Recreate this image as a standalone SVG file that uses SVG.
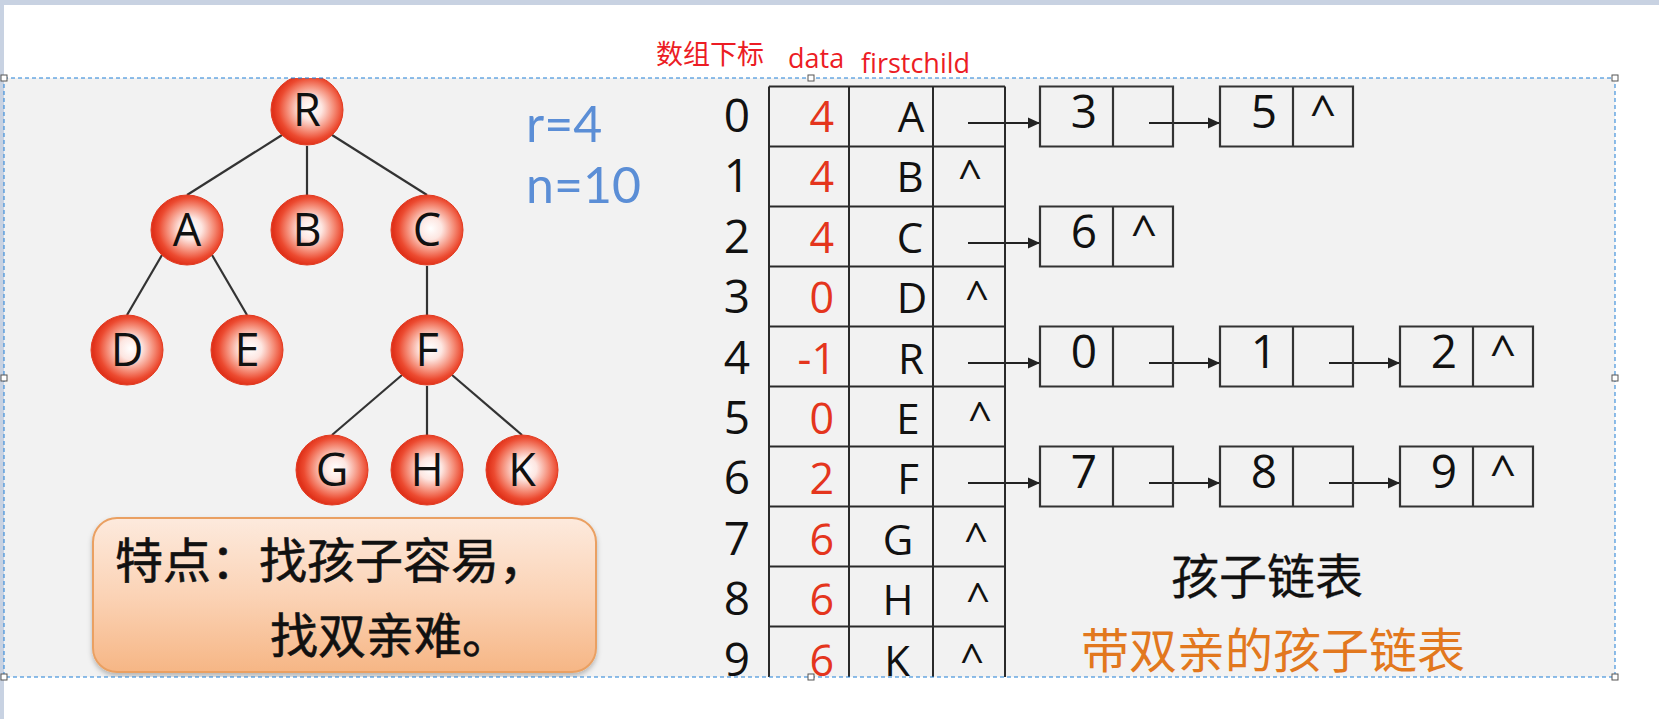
<svg xmlns="http://www.w3.org/2000/svg" width="1659" height="719" viewBox="0 0 1659 719">
<defs>
<radialGradient id="ball" cx="55%" cy="48%" r="52%">
<stop offset="0" stop-color="#ffffff"/>
<stop offset="0.3" stop-color="#fde6e1"/>
<stop offset="0.62" stop-color="#f58d78"/>
<stop offset="0.85" stop-color="#ec4a30"/>
<stop offset="1" stop-color="#e0321a"/>
</radialGradient>
<linearGradient id="note" x1="0" y1="0" x2="0" y2="1">
<stop offset="0" stop-color="#fdeadd"/>
<stop offset="0.5" stop-color="#fbd3b6"/>
<stop offset="1" stop-color="#f6b685"/>
</linearGradient>
<filter id="sh" x="-5%" y="-10%" width="110%" height="125%">
<feDropShadow dx="0" dy="3" stdDeviation="2.5" flood-color="#000" flood-opacity="0.25"/>
</filter>
<marker id="arr" markerUnits="userSpaceOnUse" markerWidth="13" markerHeight="12" refX="12" refY="6" orient="auto">
<path d="M0,0.5 L12,6 L0,11.5 z" fill="#222"/>
</marker>
<clipPath id="slide"><rect x="4" y="78" width="1611" height="599"/></clipPath>
<style>
.lat{font-family:"Open Sans","Noto Sans","Liberation Sans",sans-serif}
.cjk{font-family:"Noto Sans CJK SC","Noto Sans",sans-serif}
.nl{font-size:45px;fill:#111;text-anchor:middle}
.idx{font-size:46px;fill:#111;text-anchor:middle}
.val{font-size:43px;fill:#e4351d;text-anchor:end}
.let{font-size:42px;fill:#111;text-anchor:middle}
.car{font-size:42px;fill:#111;text-anchor:middle}
.bn{font-size:46px;fill:#111;text-anchor:middle}
.hd{font-size:27px;fill:#ec1c24}
.par{font-family:Lato,"Open Sans",sans-serif;font-size:50px;fill:#5b8ed6}
.grid{stroke:#2a2a2a;stroke-width:2;fill:none}
.edge{stroke:#333;stroke-width:2.2;fill:none}
.arrow{stroke:#222;stroke-width:2;fill:none;marker-end:url(#arr)}
.box{stroke:#333;stroke-width:2.2;fill:none}
.ball{fill:url(#ball);stroke:#e2391f;stroke-width:1}
.hdl{fill:#fff;stroke:#555;stroke-width:1}
.bold{stroke:#111;stroke-width:0.6}
</style>
</defs>

<rect x="0" y="0" width="1659" height="719" fill="#ffffff"/>
<rect x="0" y="0" width="1659" height="5" fill="#c8d2e2"/>
<rect x="0" y="0" width="4" height="719" fill="#c8d2e2"/>
<rect x="4" y="78" width="1611" height="599" fill="#f2f2f2"/>

<g id="headers">
<text class="cjk hd" x="656" y="64">数组下标</text>
<text class="lat hd" x="788" y="68">data</text>
<text class="lat hd" x="861" y="73">firstchild</text>
</g>

<g clip-path="url(#slide)">
<g id="connectors">
<line class="edge" x1="282" y1="135" x2="187" y2="195"/>
<line class="edge" x1="307" y1="146" x2="307" y2="195"/>
<line class="edge" x1="332" y1="135" x2="427" y2="195"/>
<line class="edge" x1="162" y1="255" x2="127" y2="315"/>
<line class="edge" x1="212" y1="255" x2="247" y2="315"/>
<line class="edge" x1="427" y1="266" x2="427" y2="315"/>
<line class="edge" x1="402" y1="375" x2="332" y2="435"/>
<line class="edge" x1="427" y1="386" x2="427" y2="435"/>
<line class="edge" x1="452" y1="375" x2="522" y2="435"/>
<line class="arrow" x1="968" y1="123" x2="1040" y2="123"/>
<line class="arrow" x1="1149" y1="123" x2="1220" y2="123"/>
<line class="arrow" x1="968" y1="243" x2="1040" y2="243"/>
<line class="arrow" x1="968" y1="363" x2="1040" y2="363"/>
<line class="arrow" x1="1149" y1="363" x2="1220" y2="363"/>
<line class="arrow" x1="1329" y1="363" x2="1400" y2="363"/>
<line class="arrow" x1="968" y1="483" x2="1040" y2="483"/>
<line class="arrow" x1="1149" y1="483" x2="1220" y2="483"/>
<line class="arrow" x1="1329" y1="483" x2="1400" y2="483"/>
</g>

<g id="node-R"><ellipse class="ball" cx="307" cy="110" rx="36" ry="35"/><text class="lat nl" x="307" y="126">R</text></g>
<g id="node-A"><ellipse class="ball" cx="187" cy="230" rx="36" ry="35"/><text class="lat nl" x="187" y="246">A</text></g>
<g id="node-B"><ellipse class="ball" cx="307" cy="230" rx="36" ry="35"/><text class="lat nl" x="307" y="246">B</text></g>
<g id="node-C"><ellipse class="ball" cx="427" cy="230" rx="36" ry="35"/><text class="lat nl" x="427" y="246">C</text></g>
<g id="node-D"><ellipse class="ball" cx="127" cy="350" rx="36" ry="35"/><text class="lat nl" x="127" y="366">D</text></g>
<g id="node-E"><ellipse class="ball" cx="247" cy="350" rx="36" ry="35"/><text class="lat nl" x="247" y="366">E</text></g>
<g id="node-F"><ellipse class="ball" cx="427" cy="350" rx="36" ry="35"/><text class="lat nl" x="427" y="366">F</text></g>
<g id="node-G"><ellipse class="ball" cx="332" cy="470" rx="36" ry="35"/><text class="lat nl" x="332" y="486">G</text></g>
<g id="node-H"><ellipse class="ball" cx="427" cy="470" rx="36" ry="35"/><text class="lat nl" x="427" y="486">H</text></g>
<g id="node-K"><ellipse class="ball" cx="522" cy="470" rx="36" ry="35"/><text class="lat nl" x="522" y="486">K</text></g>

<g id="params">
<text class="par" x="526" y="142">r=4</text>
<text class="par" x="526" y="203">n=10</text>
</g>

<g id="note-box">
<rect x="93" y="518" width="503" height="154" rx="24" fill="url(#note)" stroke="#eaa062" stroke-width="2" filter="url(#sh)"/>
<text class="cjk bold" x="115" y="578" font-size="48" fill="#111">特点：找孩子容易，</text>
<text class="cjk bold" x="270" y="653" font-size="48" fill="#111">找双亲难。</text>
</g>

<g id="table">
<path class="grid" d="M769,86.5 V678 M849,86.5 V678 M933,86.5 V678 M1005,86.5 V678 M769,86.5 H1005 M769,146.5 H1005 M769,206.5 H1005 M769,266.5 H1005 M769,326.5 H1005 M769,386.5 H1005 M769,446.5 H1005 M769,506.5 H1005 M769,566.5 H1005 M769,626.5 H1005"/>
<g class="lat">
<text class="idx" x="737" y="132">0</text><text class="val" x="834" y="132">4</text><text class="let" x="911" y="132">A</text>
<text class="idx" x="737" y="192">1</text><text class="val" x="834" y="192">4</text><text class="let" x="910" y="192">B</text><text class="car" x="970" y="190">^</text>
<text class="idx" x="737" y="253">2</text><text class="val" x="834" y="253">4</text><text class="let" x="910" y="253">C</text>
<text class="idx" x="737" y="313">3</text><text class="val" x="834" y="313">0</text><text class="let" x="912" y="313">D</text><text class="car" x="977" y="311">^</text>
<text class="idx" x="737" y="374">4</text><text class="val" x="836" y="374">-1</text><text class="let" x="911" y="374">R</text>
<text class="idx" x="737" y="434">5</text><text class="val" x="834" y="434">0</text><text class="let" x="908" y="434">E</text><text class="car" x="980" y="432">^</text>
<text class="idx" x="737" y="494">6</text><text class="val" x="834" y="494">2</text><text class="let" x="908" y="494">F</text>
<text class="idx" x="737" y="555">7</text><text class="val" x="834" y="555">6</text><text class="let" x="898" y="555">G</text><text class="car" x="976" y="553">^</text>
<text class="idx" x="737" y="615">8</text><text class="val" x="834" y="615">6</text><text class="let" x="898" y="615">H</text><text class="car" x="978" y="613">^</text>
<text class="idx" x="737" y="676">9</text><text class="val" x="834" y="676">6</text><text class="let" x="897" y="676">K</text><text class="car" x="972" y="674">^</text>
</g>
</g>

<g id="list-0" class="lat">
<path class="box" d="M1040,86.5 h133 v60 h-133 z M1113,86.5 v60 M1220,86.5 h133 v60 h-133 z M1293,86.5 v60"/>
<text class="bn" x="1084" y="127.5">3</text>
<text class="bn" x="1264" y="127.5">5</text><text class="bn" x="1323" y="127.5">^</text>
</g>
<g id="list-2" class="lat">
<path class="box" d="M1040,206.5 h133 v60 h-133 z M1113,206.5 v60"/>
<text class="bn" x="1084" y="247.5">6</text><text class="bn" x="1144" y="247.5">^</text>
</g>
<g id="list-4" class="lat">
<path class="box" d="M1040,326.5 h133 v60 h-133 z M1113,326.5 v60 M1220,326.5 h133 v60 h-133 z M1293,326.5 v60 M1400,326.5 h133 v60 h-133 z M1473,326.5 v60"/>
<text class="bn" x="1084" y="367.5">0</text>
<text class="bn" x="1264" y="367.5">1</text>
<text class="bn" x="1444" y="367.5">2</text><text class="bn" x="1503" y="367.5">^</text>
</g>
<g id="list-6" class="lat">
<path class="box" d="M1040,446.5 h133 v60 h-133 z M1113,446.5 v60 M1220,446.5 h133 v60 h-133 z M1293,446.5 v60 M1400,446.5 h133 v60 h-133 z M1473,446.5 v60"/>
<text class="bn" x="1084" y="487.5">7</text>
<text class="bn" x="1264" y="487.5">8</text>
<text class="bn" x="1444" y="487.5">9</text><text class="bn" x="1503" y="487.5">^</text>
</g>

<g id="captions">
<text class="cjk" x="1171" y="594" font-size="48" fill="#111" stroke="#111" stroke-width="0.3">孩子链表</text>
<text class="cjk" x="1081" y="668" font-size="48" fill="#e2781e">带双亲的孩子链表</text>
</g>
</g>

<g id="selection">
<rect x="4" y="78" width="1611" height="599" fill="none" stroke="#1f7fd6" stroke-width="1" stroke-dasharray="4 3"/>
<rect class="hdl" x="1" y="75" width="6" height="6"/>
<rect class="hdl" x="808" y="75" width="6" height="6"/>
<rect class="hdl" x="1612" y="75" width="6" height="6"/>
<rect class="hdl" x="1" y="375" width="6" height="6"/>
<rect class="hdl" x="1612" y="375" width="6" height="6"/>
<rect class="hdl" x="1" y="674" width="6" height="6"/>
<rect class="hdl" x="808" y="674" width="6" height="6"/>
<rect class="hdl" x="1612" y="674" width="6" height="6"/>
</g>
</svg>
